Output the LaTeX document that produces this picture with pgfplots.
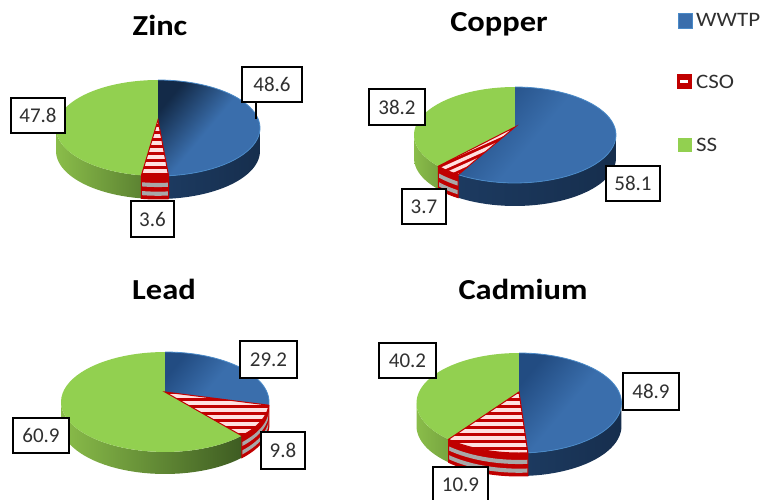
\documentclass[border=0pt]{standalone}
\usepackage{fontspec}
\setmainfont{Carlito}
\newfontfamily\widefont[FakeStretch=1.12]{Carlito}
\usepackage{pgfplots}
\usepackage{pgfplotstable}
\pgfplotsset{compat=1.18}

\definecolor{bluetop}{HTML}{3A6EAC}
\definecolor{bluedark}{HTML}{224C82}
\definecolor{blueedge}{HTML}{4A8AC8}
\definecolor{bluewallA}{HTML}{2B568C}
\definecolor{bluewallB}{HTML}{162E4D}
\definecolor{greentop}{HTML}{92D050}
\definecolor{greenwallA}{HTML}{8ABD4A}
\definecolor{greenwallB}{HTML}{3E5C22}
\definecolor{csored}{HTML}{C00000}
\definecolor{csogrey}{HTML}{A8A8A8}
\definecolor{inktext}{HTML}{303030}

% Contribution of each source to the metal load, in per cent
\pgfplotstableread{
metal   wwtp  cso   ss
Zinc    48.6  3.6   47.8
Copper  58.1  3.7   38.2
Lead    29.2  9.8   60.9
Cadmium 48.9  10.9  40.2
}\loads

% Rim point of a pie seen in perspective; the pie's centre projects to (cx,ay)
\newcommand{\rimpoint}[1]{%
  \pgfmathsetmacro\den{1+\pa*cos(#1)}%
  \pgfmathsetmacro\px{\cx+\rx*sin(#1)*sqrt(1-\pa*\pa)/\den}%
  \pgfmathsetmacro\py{\cy+\ry*(-cos(#1)-\pa)/\den}%
}
% Top face of a slice from angle #1 to angle #2
\newcommand{\buildtop}[2]{%
  \xdef\pts{(\cx,\ay)}%
  \foreach \i in {0,...,48}{%
    \pgfmathsetmacro\t{#1+(#2-#1)*\i/48}%
    \rimpoint{\t}%
    \xdef\pts{\pts (\px,\py)}%
  }%
}
% Rim arc of a slice, without the centre
\newcommand{\buildrim}[2]{%
  \xdef\pts{}%
  \foreach \i in {0,...,48}{%
    \pgfmathsetmacro\t{#1+(#2-#1)*\i/48}%
    \rimpoint{\t}%
    \xdef\pts{\pts (\px,\py)}%
  }%
}
% Band of the outer wall between angles #1,#2 and depths #3,#4
\newcommand{\buildband}[4]{%
  \xdef\pts{}%
  \foreach \i in {0,...,36}{%
    \pgfmathsetmacro\t{#1+(#2-#1)*\i/36}%
    \rimpoint{\t}%
    \pgfmathsetmacro\pyy{\py+#3}%
    \xdef\pts{\pts (\px,\pyy)}%
  }%
  \foreach \i in {36,35,...,0}{%
    \pgfmathsetmacro\t{#1+(#2-#1)*\i/36}%
    \rimpoint{\t}%
    \pgfmathsetmacro\pyy{\py+#4}%
    \xdef\pts{\pts (\px,\pyy)}%
  }%
}
\newcommand{\plotpts}[1]{%
  \edef\temp{\noexpand\addplot[forget plot,\unexpanded{#1}] coordinates {\pts} -- cycle;}\temp
}
\newcommand{\plotline}[1]{%
  \edef\temp{\noexpand\addplot[forget plot,\unexpanded{#1}] coordinates {\pts};}\temp
}
% Wall of one slice, limited to the part of the rim facing the viewer
\newcommand{\wallslice}[3]{%
  \pgfmathsetmacro\wa{max(#1,\te)}%
  \pgfmathsetmacro\wb{min(#2,360-\te)}%
  \pgfmathparse{\wb>\wa ? 1 : 0}%
  \ifnum\pgfmathresult>0
    #3%
  \fi
}
% White stripes across the current slice, with slope \stripeslope
\newcommand{\stripes}{%
  \edef\temp{\noexpand\begin{scope}\noexpand\clip plot coordinates {\pts} -- cycle;}\temp
  \pgfmathsetmacro\xa{\cx-\rx}\pgfmathsetmacro\xb{\cx+\rx}%
  \foreach \k in {0,...,18}{%
    \pgfmathsetmacro\ya{\ay+\stripeoff+7*\k-\stripeslope*\rx}%
    \pgfmathsetmacro\yb{\ay+\stripeoff+7*\k+\stripeslope*\rx}%
    \edef\temp{\noexpand\addplot[forget plot,white!88!red,line width=3.4pt] coordinates {(\xa,\ya) (\xb,\yb)};}\temp
  }%
  \end{scope}%
}
% One pie: row, cx, cy, rx, ry, ay, depth, green wall end colour, dark corner of the WWTP face
\newcommand{\pie}[9]{%
  \pgfplotstablegetelem{#1}{wwtp}\of\loads \let\vw\pgfplotsretval
  \pgfplotstablegetelem{#1}{cso}\of\loads \let\vc\pgfplotsretval
  \pgfmathsetmacro\cx{#2}\pgfmathsetmacro\cy{#3}\pgfmathsetmacro\rx{#4}%
  \pgfmathsetmacro\ry{#5}\pgfmathsetmacro\ay{#6}\pgfmathsetmacro\depth{#7}%
  \pgfmathsetmacro\pa{(\cy-\ay)/\ry}%
  \pgfmathsetmacro\te{acos(-\pa)}%
  \pgfmathsetmacro\aw{\vw*3.6}%
  \pgfmathsetmacro\ac{(\vw+\vc)*3.6}%
  % walls
  \wallslice{\ac}{360}{%
    \buildband{\wa}{\wb}{0}{\depth}\plotpts{draw=none,left color=greenwallA,right color=#8}}%
  \wallslice{0}{\aw}{%
    \buildband{\wa}{\wb}{0}{\depth}\plotpts{draw=none,left color=\bluewallstart,right color=bluewallB}}%
  \wallslice{\aw}{\ac}{%
    \buildband{\wa}{\wb}{0}{\depth}\plotpts{fill=csored,draw=none}%
    \pgfmathsetmacro\da{0.30*\depth}\pgfmathsetmacro\db{0.48*\depth}%
    \buildband{\wa}{\wb}{\da}{\db}\plotpts{fill=csogrey,draw=none}%
    \pgfmathsetmacro\da{0.68*\depth}\pgfmathsetmacro\db{0.86*\depth}%
    \buildband{\wa}{\wb}{\da}{\db}\plotpts{fill=csogrey,draw=none}%
    \buildband{\wa}{\wb}{0}{\depth}\plotpts{draw=csored,line width=1pt}%
  }%
  % top faces
  \buildtop{\ac}{360}\plotpts{fill=greentop,draw=none}%
  \buildtop{0}{\aw}\plotpts{left color=#9,right color=bluetop,middle color=bluetop,shading angle=50,draw=none}%
  \buildrim{0}{\aw}\plotline{blueedge,line width=0.8pt}%
  \buildtop{\aw}{\ac}%
  \plotpts{fill=csored,draw=none}%
  \stripes
  \plotpts{draw=csored,line width=1pt}%
}
% Boxed value label given by its edges
\newcommand{\lab}[5]{%
  \pgfmathsetmacro\lx{(#1+#2)/2}\pgfmathsetmacro\ly{(#3+#4)/2}%
  \pgfmathsetmacro\lw{#2-#1}\pgfmathsetmacro\lh{#4-#3}%
  \edef\temp{\noexpand\node[draw=black,fill=white,line width=1.3pt,inner sep=0pt,
     minimum width=\lw pt,minimum height=\lh pt,text=inktext,
     font=\noexpand\fontsize{21}{21}\noexpand\selectfont] at (axis cs:\lx,\ly) {#5};}\temp
}
\newcommand{\ttl}[3]{%
  \node[font=\fontsize{29}{29}\selectfont\widefont\bfseries,text=black] at (axis cs:#1,#2) {#3};
}
\newcommand{\legkey}[2]{%
  \node[font=\fontsize{20.5}{20.5}\selectfont\widefont,text=inktext,anchor=west,inner sep=0pt] at (axis cs:696,#1) {#2};
}

\begin{document}
\begin{tikzpicture}
\begin{axis}[
  scale only axis, width=771pt, height=500pt,
  xmin=0, xmax=771, ymin=0, ymax=500, y dir=reverse,
  axis line style={draw=none}, xtick=\empty, ytick=\empty, clip=true,
]
\def\stripeslope{0}\def\stripeoff{2}\def\bluewallstart{bluewallB!70!bluewallA}
\pie{0}{158}{128}{102}{48}{120}{23}{greenwallB!60!greenwallA}{bluedark!55!black}
\def\stripeslope{-0.45}\def\stripeoff{2}\def\bluewallstart{bluewallA}
\pie{1}{515}{135}{101}{48}{127}{23}{greenwallA!75!greenwallB}{bluedark}
\def\stripeslope{0}\def\stripeoff{4}
\pie{2}{165}{402}{104}{50}{392}{22}{greenwallB}{bluedark}
\def\bluewallstart{bluewallB!70!bluewallA}
\pie{3}{519}{403}{102.5}{50}{392}{23}{greenwallA!75!greenwallB}{bluedark}

% Leader line of the zinc WWTP label
\addplot[forget plot,black,line width=1.2pt] coordinates {(256,102) (256,119)};

\lab{242}{302}{67}{102}{48.6}
\lab{11}{65}{98}{133}{47.8}
\lab{131}{174}{201}{237}{3.6}
\lab{369}{425}{89}{125}{38.2}
\lab{606}{660}{166}{201}{58.1}
\lab{402}{446}{189}{224}{3.7}
\lab{240}{297}{341}{378}{29.2}
\lab{13}{69}{418}{453}{60.9}
\lab{261}{305}{432}{469}{9.8}
\lab{379}{436}{343}{378}{40.2}
\lab{623}{679}{373}{410}{48.9}
% The last box runs off the lower edge of the figure
\addplot[forget plot,fill=white,draw=black,line width=1.3pt] coordinates {(433,503) (433,467) (488,467) (488,503)};
\node[text=inktext,font=\fontsize{21}{21}\selectfont] at (axis cs:460.5,485) {10.9};

\ttl{160}{25}{Zinc}
\ttl{499}{24}{Copper}
\ttl{164}{289}{Lead}
\ttl{523}{289}{Cadmium}

% Legend keys
\addplot[forget plot,fill=bluetop,draw=blueedge,line width=0.8pt] coordinates {(678,13) (692,13) (692,28) (678,28)} -- cycle;
\addplot[forget plot,fill=csored,draw=csored] coordinates {(677,74) (691,74) (691,88) (677,88)} -- cycle;
\addplot[forget plot,fill=white,draw=none] coordinates {(680,80) (688,80) (688,83) (680,83)} -- cycle;
\addplot[forget plot,fill=greentop,draw=none] coordinates {(678,138) (692,138) (692,152) (678,152)} -- cycle;
\legkey{20}{WWTP}
\legkey{82}{CSO}
\legkey{145}{SS}
\end{axis}
\end{tikzpicture}
\end{document}
